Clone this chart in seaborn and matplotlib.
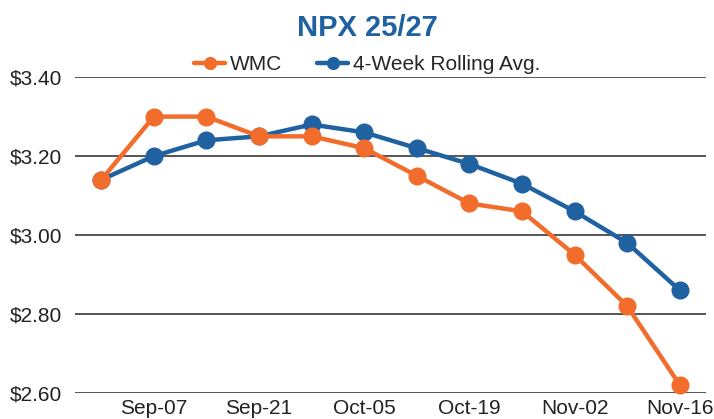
import pandas as pd
import matplotlib.pyplot as plt
import seaborn as sns

# weekly prices
weeks = ["Aug-31", "Sep-07", "Sep-14", "Sep-21", "Sep-28", "Oct-05",
         "Oct-12", "Oct-19", "Oct-26", "Nov-02", "Nov-09", "Nov-16"]
wmc = [3.14, 3.30, 3.30, 3.25, 3.25, 3.22, 3.15, 3.08, 3.06, 2.95, 2.82, 2.62]
rolling_avg = [3.14, 3.20, 3.24, 3.25, 3.28, 3.26, 3.22, 3.18, 3.13, 3.06, 2.98, 2.86]
yticks = [2.60, 2.80, 3.00, 3.20, 3.40]

orange = "#F26D2B"
blue = "#1F61A1"

df = pd.DataFrame({"week": weeks, "idx": range(len(weeks)),
                   "WMC": wmc, "4-Week Rolling Avg.": rolling_avg})

sns.set_style("white")
plt.rcParams["font.family"] = ["Liberation Sans", "DejaVu Sans"]

fig = plt.figure(figsize=(7.14, 4.19), dpi=100)
ax = fig.add_axes([0.105, 0.062, 0.884, 0.754])

# blue first so orange sits on top
sns.lineplot(data=df, x="idx", y="4-Week Rolling Avg.", color=blue, marker="o",
             markersize=13, markeredgewidth=0, lw=3.2, ax=ax,
             clip_on=False, zorder=3)
sns.lineplot(data=df, x="idx", y="WMC", color=orange, marker="o",
             markersize=13, markeredgewidth=0, lw=3.2, ax=ax,
             clip_on=False, zorder=4)

ax.set_xlim(-0.5, 11.5)
ax.set_ylim(2.60, 3.40)
ax.set_yticks(yticks)
ax.set_yticklabels([f"${v:.2f}" for v in yticks], fontsize=15, color="#222222")
ax.set_xticks(df.idx[1::2])
ax.set_xticklabels(df.week[1::2], fontsize=15, color="#222222")
ax.tick_params(axis="y", length=0, pad=9)
ax.tick_params(axis="x", length=0, pad=4)
ax.grid(axis="y", color="#555555", lw=1.4)
ax.set_axisbelow(True)
for s in ax.spines.values():
    s.set_visible(False)
ax.set_xlabel("")
ax.set_ylabel("")

handles = [plt.Line2D([], [], color=orange, marker="o", ms=9.5, mew=0, lw=3.2),
           plt.Line2D([], [], color=blue, marker="o", ms=9.5, mew=0, lw=3.2)]
fig.legend(handles, ["WMC", "4-Week Rolling Avg."], loc="center",
           bbox_to_anchor=(0.514, 0.845), ncol=2, frameon=False, fontsize=15,
           handlelength=1.5, handletextpad=0.2, columnspacing=1.7, borderpad=0)

fig.text(0.514, 0.934, "NPX 25/27", ha="center", va="center", fontsize=21,
         fontweight="bold", color=blue)

fig.savefig("out.png", dpi=100)
